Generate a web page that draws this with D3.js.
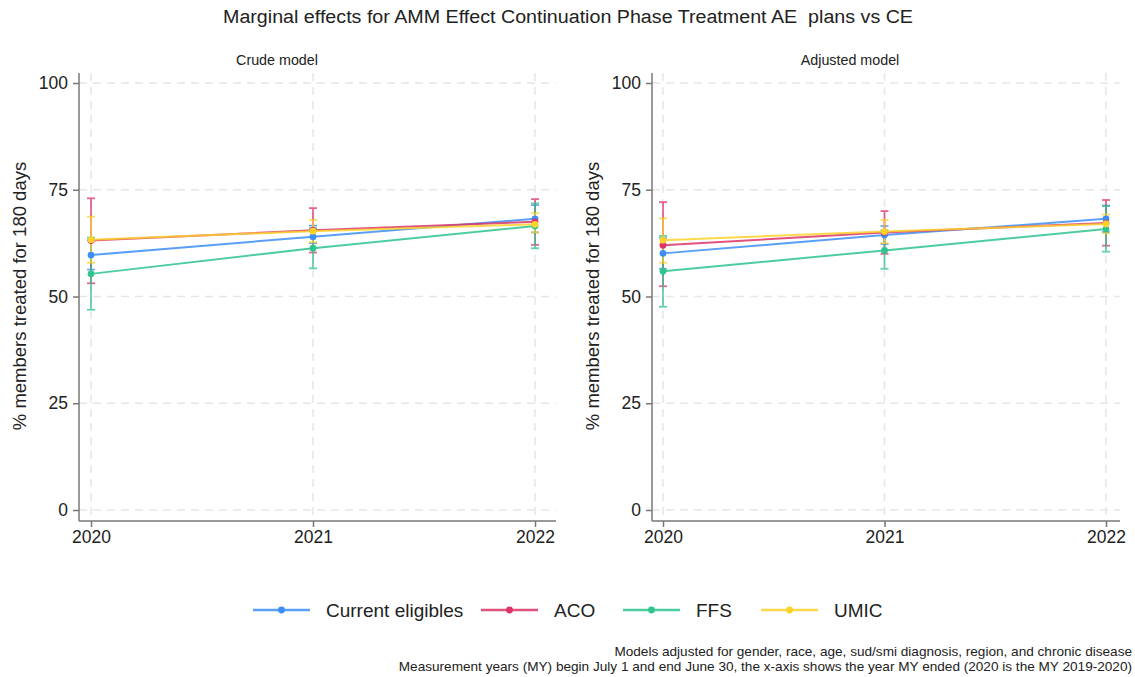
<!DOCTYPE html>
<html><head><meta charset="utf-8">
<script src="https://cdn.jsdelivr.net/npm/d3@7"></script>
<style>body{margin:0;background:#fff}svg{display:block;font-family:"Liberation Sans",Arial,sans-serif}</style>
</head><body>
<svg id="c" width="1135" height="677"></svg>
<script>
const years = [2020, 2021, 2022];
const seriesNames = ["Current eligibles", "ACO", "FFS", "UMIC"];
const seriesColors = ["#3d8ef6", "#dc3468", "#2ec48c", "#fbd12c"];
const yTicks = [0, 25, 50, 75, 100];

// Crude model
const crudeCE_est = [59.7, 64.0, 68.2], crudeCE_lo = [56.3, 62.5, 65.0], crudeCE_hi = [63.2, 66.6, 71.4];
const crudeACO_est = [63.1, 65.5, 67.5], crudeACO_lo = [53.1, 60.3, 62.1], crudeACO_hi = [73.0, 70.7, 72.8];
const crudeFFS_est = [55.3, 61.3, 66.5], crudeFFS_lo = [46.9, 56.6, 61.3], crudeFFS_hi = [63.8, 66.0, 71.8];
const crudeUMIC_est = [63.3, 65.3, 66.9], crudeUMIC_lo = [57.9, 62.7, 65.0], crudeUMIC_hi = [68.7, 67.9, 69.5];
// Adjusted model
const adjCE_est = [60.1, 64.4, 68.2], adjCE_lo = [56.5, 62.3, 65.1], adjCE_hi = [63.7, 66.5, 71.3];
const adjACO_est = [62.0, 65.0, 67.2], adjACO_lo = [52.4, 60.0, 61.9], adjACO_hi = [72.1, 70.0, 72.6];
const adjFFS_est = [55.9, 60.8, 65.8], adjFFS_lo = [47.6, 56.5, 60.5], adjFFS_hi = [64.2, 65.5, 71.2];
const adjUMIC_est = [63.2, 65.2, 67.0], adjUMIC_lo = [57.9, 62.5, 64.8], adjUMIC_hi = [68.3, 67.9, 69.2];

const panels = [
  {title: "Crude model", titleX: 277, axisX: 79, x0: 91, x1: 535, xEnd: 556,
   series: [[crudeCE_est, crudeCE_lo, crudeCE_hi], [crudeACO_est, crudeACO_lo, crudeACO_hi],
            [crudeFFS_est, crudeFFS_lo, crudeFFS_hi], [crudeUMIC_est, crudeUMIC_lo, crudeUMIC_hi]]},
  {title: "Adjusted model", titleX: 850, axisX: 652, x0: 663, x1: 1106, xEnd: 1120,
   series: [[adjCE_est, adjCE_lo, adjCE_hi], [adjACO_est, adjACO_lo, adjACO_hi],
            [adjFFS_est, adjFFS_lo, adjFFS_hi], [adjUMIC_est, adjUMIC_lo, adjUMIC_hi]]}
];

const svg = d3.select("#c");
svg.append("text").attr("x", 568).attr("y", 23).attr("text-anchor", "middle")
  .attr("font-size", 18).attr("fill", "#222").style("white-space", "pre")
  .attr("textLength", 690).attr("lengthAdjust", "spacingAndGlyphs")
  .text("Marginal effects for AMM Effect Continuation Phase Treatment AE  plans vs CE");

const yTop = 73, yBase = 521;
panels.forEach(p => {
  const g = svg.append("g");
  const y = d3.scaleLinear().domain([0, 100]).range([510, 83]);
  const x = d3.scaleLinear().domain([2020, 2022]).range([p.x0, p.x1]);
  g.append("text").attr("x", p.titleX).attr("y", 65)
    .attr("text-anchor", "middle").attr("font-size", 14.3).attr("fill", "#222").text(p.title);

  // gridlines
  g.selectAll(".hg").data(yTicks).join("line")
    .attr("x1", p.axisX).attr("x2", p.xEnd).attr("y1", d => y(d)).attr("y2", d => y(d))
    .attr("stroke", "#e6e6e6").attr("stroke-width", 1.5).attr("stroke-dasharray", "8,6");
  g.selectAll(".vg").data(years).join("line")
    .attr("x1", d => x(d)).attr("x2", d => x(d)).attr("y1", yTop).attr("y2", yBase)
    .attr("stroke", "#e6e6e6").attr("stroke-width", 1.5).attr("stroke-dasharray", "8,6");

  // axes
  const ya = d3.axisLeft(y).tickValues(yTicks).tickSize(6).tickPadding(5);
  const yg = g.append("g").attr("transform", `translate(${p.axisX},0)`).call(ya);
  yg.select(".domain").remove();
  yg.append("line").attr("x1", 0).attr("x2", 0).attr("y1", yTop).attr("y2", yBase).attr("stroke", "#777").attr("stroke-width", 1.5);
  yg.selectAll(".tick line").attr("stroke", "#777").attr("stroke-width", 1.5);
  yg.selectAll(".tick text").attr("font-size", 17.5).attr("fill", "#222").attr("font-family", "Liberation Sans, Arial, sans-serif");

  const xa = d3.axisBottom(x).tickValues(years).tickFormat(d3.format("d")).tickSize(6).tickPadding(4);
  const xg = g.append("g").attr("transform", `translate(0,${yBase})`).call(xa);
  xg.select(".domain").remove();
  xg.append("line").attr("x1", p.axisX).attr("x2", p.xEnd).attr("y1", 0).attr("y2", 0).attr("stroke", "#777").attr("stroke-width", 1.5);
  xg.selectAll(".tick line").attr("stroke", "#777").attr("stroke-width", 1.5);
  xg.selectAll(".tick text").attr("font-size", 17.5).attr("fill", "#222").attr("font-family", "Liberation Sans, Arial, sans-serif");

  g.append("text").attr("transform", `translate(${p.axisX - 53},296) rotate(-90)`)
    .attr("text-anchor", "middle").attr("font-size", 18.5).attr("fill", "#222")
    .text("% members treated for 180 days");

  // error bars
  p.series.forEach((s, si) => {
    const col = seriesColors[si];
    const [est, lo, hi] = s;
    const eb = g.append("g").attr("stroke", col).attr("stroke-width", 1.8).attr("opacity", 0.75);
    years.forEach((yr, i) => {
      eb.append("line").attr("x1", x(yr)).attr("x2", x(yr)).attr("y1", y(lo[i])).attr("y2", y(hi[i]));
      eb.append("line").attr("x1", x(yr) - 4).attr("x2", x(yr) + 4).attr("y1", y(lo[i])).attr("y2", y(lo[i]));
      eb.append("line").attr("x1", x(yr) - 4).attr("x2", x(yr) + 4).attr("y1", y(hi[i])).attr("y2", y(hi[i]));
    });
  });
  // lines and points
  p.series.forEach((s, si) => {
    const col = seriesColors[si];
    const est = s[0];
    const line = d3.line().x((d, i) => x(years[i])).y(d => y(d));
    g.append("path").datum(est).attr("d", line).attr("fill", "none")
      .attr("stroke", col).attr("stroke-width", 2).attr("opacity", 0.85);
    g.selectAll(null).data(est).join("circle")
      .attr("cx", (d, i) => x(years[i])).attr("cy", d => y(d)).attr("r", 3.4).attr("fill", col);
  });
});

// legend
const legX = [253, 481, 623, 761];
const leg = svg.append("g");
seriesNames.forEach((n, i) => {
  const lx = legX[i];
  leg.append("line").attr("x1", lx).attr("x2", lx + 57).attr("y1", 610).attr("y2", 610)
    .attr("stroke", seriesColors[i]).attr("stroke-width", 2.5).attr("opacity", 0.85);
  leg.append("circle").attr("cx", lx + 28.5).attr("cy", 610).attr("r", 3.4).attr("fill", seriesColors[i]);
  leg.append("text").attr("x", lx + 73).attr("y", 617).attr("font-size", 19).attr("fill", "#222").text(n);
});

svg.append("text").attr("x", 1132).attr("y", 656).attr("text-anchor", "end").attr("font-size", 13.6).attr("fill", "#222")
  .text("Models adjusted for gender, race, age, sud/smi diagnosis, region, and chronic disease");
svg.append("text").attr("x", 1132).attr("y", 670.5).attr("text-anchor", "end").attr("font-size", 13.6).attr("fill", "#222")
  .text("Measurement years (MY) begin July 1 and end June 30, the x-axis shows the year MY ended (2020 is the MY 2019-2020)");
</script>
</body></html>
